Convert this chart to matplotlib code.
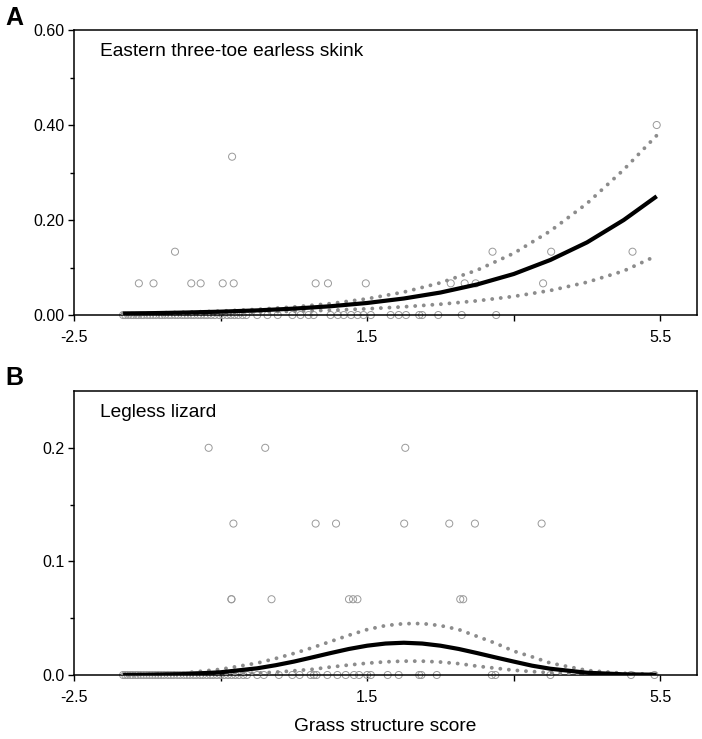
import matplotlib
matplotlib.use("Agg")
import matplotlib.pyplot as plt
from matplotlib.ticker import FixedLocator

plt.rcParams['font.family'] = ['Liberation Sans', 'DejaVu Sans']

# ---------------- Panel A data: Eastern three-toe earless skink ----------------
a_zero_x = [-1.83, -1.80, -1.76, -1.72, -1.69, -1.65, -1.62, -1.58, -1.55, -1.50,
            -1.46, -1.42, -1.38, -1.33, -1.30, -1.26, -1.21, -1.17, -1.12, -1.08,
            -1.03, -0.99, -0.95, -0.90, -0.86, -0.81, -0.77, -0.72, -0.68, -0.63,
            -0.58, -0.52, -0.47, -0.41, -0.36, -0.31, -0.26, -0.20, -0.15,
            0.00, 0.14, 0.28, 0.48, 0.59, 0.70, 0.77, 1.00, 1.10, 1.18, 1.28,
            1.37, 1.45, 1.55, 1.82, 1.93, 2.03, 2.21, 2.25, 2.47, 2.79, 3.26]
a_pos_x = [-1.615, -1.415, -0.90, -0.772, -0.471, -0.321, 0.797, 0.965, 1.481,
           2.64, 2.83, 2.98, 3.90,
           -1.122, 3.21, 4.01, 5.12,
           -0.343,
           5.45]
a_pos_y = [0.0667] * 13 + [0.1333] * 4 + [0.3333] + [0.40]

a_curve_x = [-1.83, -1.5, -1.0, -0.5, 0.0, 0.5, 1.0, 1.5, 2.0, 2.5, 3.0, 3.5,
             4.0, 4.5, 5.0, 5.45]
a_mean = [0.0030, 0.0038, 0.0052, 0.0071, 0.0098, 0.0135, 0.0185, 0.0254,
          0.0348, 0.0474, 0.0644, 0.0864, 0.116, 0.153, 0.200, 0.250]
a_upper = [0.0032, 0.0041, 0.0058, 0.0083, 0.0119, 0.0170, 0.0241, 0.0342,
           0.0483, 0.0679, 0.0945, 0.130, 0.177, 0.235, 0.306, 0.378]
a_lower = [0.0027, 0.0032, 0.0040, 0.0050, 0.0062, 0.0080, 0.0101, 0.0131,
           0.0173, 0.0228, 0.0299, 0.0392, 0.0517, 0.0691, 0.0928, 0.125]

# ---------------- Panel B data: Legless lizard ----------------
b_zero_x = [-1.83, -1.80, -1.77, -1.73, -1.70, -1.66, -1.63, -1.59, -1.55, -1.51,
            -1.47, -1.43, -1.39, -1.35, -1.31, -1.27, -1.22, -1.18, -1.14, -1.09,
            -1.05, -1.00, -0.96, -0.92, -0.87, -0.83, -0.78, -0.74, -0.69, -0.64,
            -0.60, -0.55, -0.50, -0.45, -0.40, -0.35, -0.30, -0.25, -0.19, -0.14,
            0.00, 0.09, 0.295, 0.478, 0.578, 0.728, 0.774, 0.81, 0.957, 1.094,
            1.207, 1.32, 1.39, 1.50, 1.55, 1.78, 1.93, 2.21, 2.24, 2.45, 3.20,
            3.25, 4.00, 5.10, 5.42]
b_pos_x = [-0.663, 0.109, 2.02,
           -0.325, 0.797, 1.075, 2.005, 2.62, 2.97, 3.88,
           -0.352, -0.352, 0.195, 1.252, 1.307, 1.367, 2.77, 2.81]
b_pos_y = [0.2] * 3 + [0.1333] * 7 + [0.0667] * 8

b_curve_x = [-1.83, -1.5, -1.0, -0.5, 0.0, 0.25, 0.5, 0.75, 1.0, 1.25, 1.5, 1.75,
             2.0, 2.25, 2.5, 2.75, 3.0, 3.25, 3.5, 3.75, 4.0, 4.5, 5.0, 5.45]
b_mean = [0.00009, 0.00022, 0.0008, 0.0024, 0.0059, 0.0086, 0.0118, 0.0155,
          0.0193, 0.0229, 0.0258, 0.0277, 0.0284, 0.0277, 0.0258, 0.0229,
          0.0193, 0.0155, 0.0118, 0.0082, 0.0055, 0.0020, 0.0006, 0.00026]
b_upper = [0.0003, 0.0007, 0.0018, 0.0050, 0.0105, 0.0145, 0.019, 0.024,
           0.0295, 0.035, 0.040, 0.0435, 0.0452, 0.0453, 0.0435, 0.040,
           0.034, 0.028, 0.021, 0.016, 0.0105, 0.0040, 0.0015, 0.0006]
b_lower = [0.00002, 0.00005, 0.0002, 0.0006, 0.0017, 0.0025, 0.0037, 0.0050,
           0.0070, 0.0088, 0.0104, 0.0116, 0.0122, 0.0122, 0.0114, 0.0100,
           0.0078, 0.0060, 0.0042, 0.0030, 0.0020, 0.0008, 0.0002, 0.00005]

x_ticks = [-2.5, -0.5, 1.5, 3.5, 5.5]
x_ticklabels = ['-2.5', '', '1.5', '', '5.5']
a_yticks = [0.0, 0.2, 0.4, 0.6]
a_yticklabels = ['0.00', '0.20', '0.40', '0.60']
a_yminor = [0.1, 0.3, 0.5]
b_yticks = [0.0, 0.1, 0.2]
b_yticklabels = ['0.0', '0.1', '0.2']
b_yminor = [0.05, 0.15]

CIRC = '#9a9a9a'
DOT = '#8c8c8c'

fig = plt.figure(figsize=(7.02, 7.39), dpi=100)
axA = fig.add_axes([0.1054, 0.5737, 0.8875, 0.3857])
axB = fig.add_axes([0.1054, 0.0866, 0.8875, 0.3843])


def draw(ax, zx, px, py, cx, mean, up, lo, ylim, yt, ytl, ymin, title):
    ax.scatter(zx, [0.0] * len(zx), s=26, facecolors='none', edgecolors=CIRC,
               linewidths=0.7, clip_on=False, zorder=2)
    ax.scatter(px, py, s=26, facecolors='none', edgecolors=CIRC,
               linewidths=0.7, clip_on=False, zorder=2)
    for yy in (up, lo):
        ax.plot(cx, yy, color=DOT, lw=2.8, linestyle=(0, (0.01, 2.2)),
                dash_capstyle='round', zorder=3)
    ax.plot(cx, mean, color='black', lw=3.0, solid_capstyle='butt', zorder=4)
    ax.set_xlim(-2.5, 6.0)
    ax.set_ylim(*ylim)
    ax.set_xticks(x_ticks)
    ax.set_xticklabels(x_ticklabels)
    ax.set_yticks(yt)
    ax.set_yticklabels(ytl)
    ax.yaxis.set_minor_locator(FixedLocator(ymin))
    ax.tick_params(axis='both', which='major', direction='out', length=4,
                   width=1.0, labelsize=11.5, pad=3, colors='black')
    ax.tick_params(axis='x', which='major', pad=7)
    ax.tick_params(axis='y', which='minor', direction='out', length=3, width=1.0)
    for s in ax.spines.values():
        s.set_linewidth(1.1)
    ax.text(0.042, 0.923, title, transform=ax.transAxes, fontsize=13.8,
            ha='left', va='center')


draw(axA, a_zero_x, a_pos_x, a_pos_y, a_curve_x, a_mean, a_upper, a_lower,
     (0, 0.6), a_yticks, a_yticklabels, a_yminor,
     'Eastern three-toe earless skink')
draw(axB, b_zero_x, b_pos_x, b_pos_y, b_curve_x, b_mean, b_upper, b_lower,
     (0, 0.25), b_yticks, b_yticklabels, b_yminor, 'Legless lizard')

axB.set_xlabel('Grass structure score', fontsize=13.8, labelpad=9)

fig.text(0.008, 0.975, 'A', fontsize=18, fontweight='bold', ha='left', va='center')
fig.text(0.008, 0.488, 'B', fontsize=18, fontweight='bold', ha='left', va='center')

fig.savefig('out.png', dpi=100)
